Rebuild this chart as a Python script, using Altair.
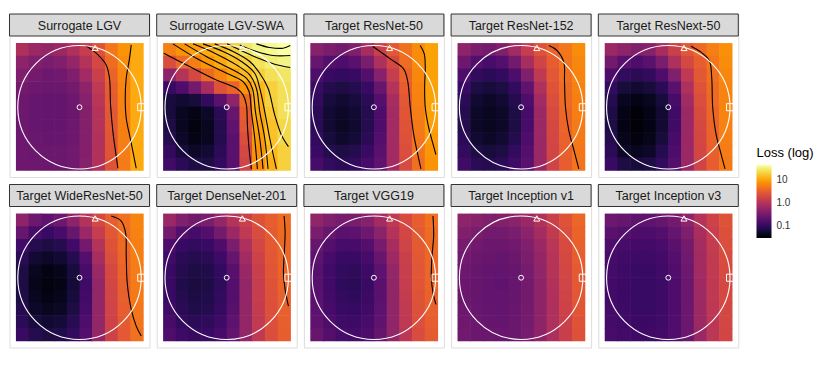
import altair as alt
import pandas as pd

# ---------------- data ----------------
panel_names = ["Surrogate LGV", "Surrogate LGV-SWA", "Target ResNet-50", "Target ResNet-152",
               "Target ResNext-50", "Target WideResNet-50", "Target DenseNet-201", "Target VGG19",
               "Target Inception v1", "Target Inception v3"]

# grid cell edges in plane coordinates (circle radius = 1)
grid_edges = [-1.03, -0.824, -0.618, -0.412, -0.206, 0.0, 0.206, 0.412, 0.618, 0.824, 1.03]

# log10(loss) per cell, rows from top to bottom
logloss_lgv = [
    [-0.05, -0.2, -0.25, -0.2, -0.05, 0.15, 0.4, 0.7, 0.9, 1.05],
    [-0.3, -0.4, -0.45, -0.4, -0.25, 0.0, 0.3, 0.62, 0.85, 1.05],
    [-0.42, -0.5, -0.55, -0.52, -0.42, -0.15, 0.2, 0.55, 0.82, 1.05],
    [-0.5, -0.55, -0.58, -0.57, -0.5, -0.3, 0.1, 0.5, 0.8, 1.05],
    [-0.55, -0.6, -0.62, -0.62, -0.55, -0.36, 0.05, 0.47, 0.78, 1.05],
    [-0.55, -0.6, -0.62, -0.62, -0.56, -0.38, 0.0, 0.45, 0.77, 1.05],
    [-0.55, -0.6, -0.62, -0.61, -0.55, -0.38, 0.0, 0.44, 0.76, 1.05],
    [-0.55, -0.58, -0.6, -0.6, -0.55, -0.38, -0.02, 0.42, 0.75, 1.05],
    [-0.55, -0.57, -0.58, -0.58, -0.53, -0.37, -0.02, 0.41, 0.74, 1.05],
    [-0.55, -0.55, -0.56, -0.56, -0.52, -0.36, -0.02, 0.4, 0.73, 1.05],
]
logloss_swa = [
    [0.75, 0.9, 0.98, 1.05, 1.15, 1.3, 1.45, 1.55, 1.6, 1.65],
    [0.35, 0.6, 0.75, 0.92, 1.05, 1.18, 1.3, 1.42, 1.5, 1.55],
    [-0.3, 0.0, 0.3, 0.6, 0.8, 1.0, 1.15, 1.3, 1.4, 1.45],
    [-0.95, -0.8, -0.5, -0.1, 0.4, 0.55, 0.9, 1.15, 1.3, 1.4],
    [-1.2, -1.25, -1.2, -1.0, -0.7, -0.3, 0.6, 1.1, 1.3, 1.4],
    [-1.2, -1.35, -1.4, -1.3, -1.05, -0.6, 0.5, 1.05, 1.25, 1.4],
    [-1.15, -1.35, -1.45, -1.35, -1.1, -0.65, 0.45, 1.0, 1.2, 1.35],
    [-1.1, -1.3, -1.4, -1.35, -1.1, -0.7, 0.35, 0.95, 1.2, 1.35],
    [-1.0, -1.2, -1.3, -1.25, -1.05, -0.7, 0.3, 0.9, 1.15, 1.3],
    [-0.9, -1.05, -1.15, -1.15, -1.0, -0.7, 0.25, 0.85, 1.1, 1.3],
]
logloss_resnet50 = [
    [-0.35, -0.45, -0.5, -0.4, -0.1, 0.2, 0.45, 0.65, 0.85, 1.0],
    [-0.6, -0.75, -0.8, -0.7, -0.45, -0.05, 0.3, 0.62, 0.85, 1.0],
    [-0.8, -0.95, -1.0, -0.95, -0.75, -0.35, 0.15, 0.55, 0.82, 1.0],
    [-0.95, -1.1, -1.15, -1.1, -0.95, -0.6, 0.0, 0.5, 0.8, 1.0],
    [-1.0, -1.2, -1.25, -1.2, -1.05, -0.75, -0.1, 0.45, 0.78, 1.0],
    [-1.05, -1.25, -1.3, -1.25, -1.1, -0.8, -0.15, 0.42, 0.75, 1.0],
    [-1.05, -1.25, -1.32, -1.27, -1.1, -0.8, -0.15, 0.4, 0.72, 0.98],
    [-1.0, -1.2, -1.28, -1.22, -1.05, -0.75, -0.15, 0.38, 0.7, 0.95],
    [-0.95, -1.1, -1.15, -1.1, -0.95, -0.7, -0.15, 0.35, 0.68, 0.92],
    [-0.85, -1.0, -1.05, -1.0, -0.85, -0.65, -0.15, 0.32, 0.65, 0.9],
]
logloss_resnet152 = [
    [-0.3, -0.45, -0.5, -0.4, -0.15, 0.15, 0.4, 0.55, 0.7, 0.85],
    [-0.55, -0.75, -0.85, -0.75, -0.5, -0.1, 0.25, 0.5, 0.68, 0.82],
    [-0.8, -1.0, -1.05, -1.0, -0.8, -0.4, 0.1, 0.45, 0.65, 0.8],
    [-0.95, -1.15, -1.2, -1.15, -1.0, -0.65, -0.05, 0.4, 0.62, 0.78],
    [-1.05, -1.25, -1.3, -1.25, -1.1, -0.8, -0.15, 0.35, 0.6, 0.76],
    [-1.1, -1.3, -1.35, -1.3, -1.15, -0.85, -0.2, 0.32, 0.58, 0.75],
    [-1.1, -1.3, -1.35, -1.3, -1.15, -0.85, -0.2, 0.3, 0.56, 0.73],
    [-1.05, -1.25, -1.3, -1.25, -1.1, -0.8, -0.2, 0.28, 0.54, 0.72],
    [-1.0, -1.15, -1.2, -1.15, -1.0, -0.75, -0.2, 0.27, 0.52, 0.7],
    [-0.9, -1.05, -1.1, -1.05, -0.9, -0.7, -0.2, 0.25, 0.5, 0.68],
]
logloss_resnext50 = [
    [-0.2, -0.3, -0.4, -0.35, -0.1, 0.2, 0.45, 0.6, 0.75, 0.88],
    [-0.5, -0.7, -0.8, -0.7, -0.45, -0.05, 0.3, 0.5, 0.7, 0.85],
    [-0.8, -1.0, -1.05, -1.0, -0.8, -0.4, 0.1, 0.45, 0.65, 0.82],
    [-1.0, -1.2, -1.25, -1.2, -1.05, -0.7, -0.05, 0.4, 0.62, 0.8],
    [-1.1, -1.35, -1.4, -1.35, -1.2, -0.85, -0.15, 0.35, 0.6, 0.8],
    [-1.15, -1.4, -1.48, -1.4, -1.25, -0.9, -0.2, 0.32, 0.58, 0.8],
    [-1.15, -1.42, -1.5, -1.42, -1.25, -0.9, -0.2, 0.3, 0.56, 0.78],
    [-1.1, -1.38, -1.45, -1.38, -1.2, -0.85, -0.2, 0.28, 0.55, 0.76],
    [-1.05, -1.3, -1.35, -1.3, -1.1, -0.8, -0.2, 0.27, 0.52, 0.74],
    [-0.95, -1.15, -1.2, -1.15, -1.0, -0.75, -0.2, 0.25, 0.5, 0.72],
]
logloss_wideresnet50 = [
    [-0.3, -0.55, -0.65, -0.55, -0.3, 0.0, 0.3, 0.5, 0.65, 0.8],
    [-0.6, -0.85, -0.95, -0.85, -0.6, -0.2, 0.15, 0.45, 0.62, 0.78],
    [-0.9, -1.1, -1.15, -1.1, -0.9, -0.5, 0.0, 0.4, 0.6, 0.76],
    [-1.05, -1.25, -1.3, -1.25, -1.1, -0.75, -0.1, 0.35, 0.58, 0.75],
    [-1.15, -1.35, -1.42, -1.38, -1.2, -0.85, -0.2, 0.3, 0.55, 0.74],
    [-1.15, -1.38, -1.45, -1.4, -1.22, -0.9, -0.25, 0.28, 0.54, 0.73],
    [-1.15, -1.35, -1.42, -1.38, -1.2, -0.88, -0.25, 0.26, 0.52, 0.72],
    [-1.1, -1.3, -1.35, -1.32, -1.15, -0.85, -0.25, 0.25, 0.5, 0.7],
    [-1.05, -1.2, -1.25, -1.22, -1.08, -0.8, -0.25, 0.23, 0.48, 0.68],
    [-0.95, -1.1, -1.15, -1.12, -1.0, -0.75, -0.25, 0.22, 0.46, 0.66],
]
logloss_densenet201 = [
    [-0.2, -0.4, -0.5, -0.45, -0.25, 0.0, 0.2, 0.38, 0.5, 0.62],
    [-0.5, -0.75, -0.85, -0.75, -0.5, -0.2, 0.1, 0.33, 0.48, 0.6],
    [-0.8, -0.95, -1.0, -0.95, -0.8, -0.45, -0.05, 0.28, 0.46, 0.58],
    [-0.9, -1.05, -1.1, -1.05, -0.92, -0.62, -0.15, 0.22, 0.44, 0.57],
    [-0.95, -1.1, -1.15, -1.12, -1.0, -0.72, -0.22, 0.18, 0.42, 0.56],
    [-0.95, -1.12, -1.18, -1.15, -1.02, -0.75, -0.25, 0.16, 0.4, 0.55],
    [-0.95, -1.1, -1.16, -1.13, -1.0, -0.75, -0.26, 0.15, 0.38, 0.53],
    [-0.9, -1.05, -1.12, -1.1, -0.98, -0.72, -0.26, 0.13, 0.37, 0.52],
    [-0.85, -1.0, -1.05, -1.02, -0.92, -0.68, -0.26, 0.12, 0.36, 0.51],
    [-0.8, -0.92, -0.98, -0.95, -0.85, -0.64, -0.25, 0.1, 0.35, 0.5],
]
logloss_vgg19 = [
    [-0.28, -0.4, -0.48, -0.45, -0.35, -0.15, 0.1, 0.32, 0.5, 0.65],
    [-0.45, -0.6, -0.7, -0.68, -0.55, -0.32, 0.0, 0.28, 0.48, 0.62],
    [-0.6, -0.75, -0.85, -0.85, -0.75, -0.48, -0.1, 0.25, 0.47, 0.6],
    [-0.68, -0.85, -0.95, -0.95, -0.85, -0.6, -0.18, 0.2, 0.45, 0.58],
    [-0.72, -0.9, -1.0, -1.02, -0.92, -0.68, -0.25, 0.17, 0.43, 0.57],
    [-0.72, -0.9, -1.02, -1.05, -0.95, -0.7, -0.28, 0.15, 0.42, 0.56],
    [-0.7, -0.88, -1.0, -1.02, -0.93, -0.7, -0.28, 0.13, 0.4, 0.54],
    [-0.68, -0.85, -0.95, -0.98, -0.9, -0.68, -0.28, 0.11, 0.38, 0.52],
    [-0.65, -0.8, -0.9, -0.92, -0.85, -0.65, -0.28, 0.09, 0.36, 0.5],
    [-0.6, -0.75, -0.85, -0.87, -0.8, -0.62, -0.28, 0.07, 0.33, 0.48],
]
logloss_inception1 = [
    [-0.3, -0.35, -0.4, -0.38, -0.32, -0.2, -0.02, 0.2, 0.4, 0.58],
    [-0.4, -0.45, -0.5, -0.5, -0.45, -0.32, -0.12, 0.12, 0.35, 0.55],
    [-0.48, -0.52, -0.57, -0.57, -0.52, -0.4, -0.2, 0.05, 0.32, 0.52],
    [-0.52, -0.57, -0.6, -0.62, -0.57, -0.45, -0.25, 0.02, 0.3, 0.5],
    [-0.55, -0.6, -0.63, -0.64, -0.6, -0.48, -0.28, 0.0, 0.28, 0.48],
    [-0.56, -0.6, -0.64, -0.65, -0.6, -0.5, -0.3, -0.02, 0.26, 0.46],
    [-0.56, -0.6, -0.63, -0.64, -0.6, -0.5, -0.3, -0.03, 0.24, 0.44],
    [-0.55, -0.59, -0.62, -0.63, -0.59, -0.5, -0.3, -0.04, 0.22, 0.42],
    [-0.54, -0.58, -0.6, -0.61, -0.58, -0.49, -0.3, -0.05, 0.2, 0.4],
    [-0.52, -0.56, -0.58, -0.59, -0.56, -0.48, -0.3, -0.06, 0.18, 0.38],
]
logloss_inception3 = [
    [-0.55, -0.6, -0.65, -0.65, -0.6, -0.5, -0.3, 0.0, 0.22, 0.4],
    [-0.7, -0.75, -0.8, -0.8, -0.75, -0.62, -0.42, -0.08, 0.17, 0.37],
    [-0.8, -0.85, -0.88, -0.88, -0.83, -0.7, -0.5, -0.12, 0.14, 0.35],
    [-0.85, -0.9, -0.92, -0.92, -0.88, -0.75, -0.53, -0.14, 0.12, 0.33],
    [-0.87, -0.92, -0.95, -0.95, -0.9, -0.78, -0.55, -0.15, 0.11, 0.32],
    [-0.88, -0.93, -0.96, -0.96, -0.92, -0.8, -0.56, -0.16, 0.1, 0.3],
    [-0.88, -0.93, -0.96, -0.96, -0.92, -0.8, -0.56, -0.17, 0.09, 0.3],
    [-0.87, -0.92, -0.95, -0.95, -0.91, -0.8, -0.57, -0.18, 0.08, 0.29],
    [-0.86, -0.9, -0.93, -0.93, -0.9, -0.79, -0.57, -0.19, 0.07, 0.28],
    [-0.84, -0.88, -0.91, -0.91, -0.88, -0.78, -0.57, -0.2, 0.06, 0.27],
]

# contour lines, (x, y) in plane coordinates
contours_lgv = [
    [(0.097, 1.0), (0.27, 0.876), (0.432, 0.686), (0.486, 0.47), (0.503, 0.038), (0.541, -0.395), (0.584, -0.719), (0.622, -0.989)],
    [(0.838, 1.01), (0.811, 0.795), (0.757, 0.47), (0.741, 0.146), (0.757, -0.178), (0.822, -0.503), (0.876, -0.773), (0.919, -0.989)],
]
contours_swa = [
    [(-1.02, 0.876), (-0.6, 0.659), (-0.168, 0.443), (0.157, 0.308), (0.265, 0.2), (0.319, 0.038), (0.335, -0.286), (0.362, -0.665), (0.4, -1.0)],
    [(-0.87, 1.027), (-0.492, 0.795), (-0.059, 0.578), (0.265, 0.416), (0.362, 0.254), (0.4, -0.07), (0.454, -0.503), (0.497, -1.0)],
    [(-0.681, 1.027), (-0.33, 0.822), (0.049, 0.632), (0.319, 0.47), (0.416, 0.308), (0.465, -0.07), (0.535, -0.503), (0.589, -1.0)],
    [(-0.546, 1.027), (-0.195, 0.876), (0.157, 0.686), (0.373, 0.524), (0.481, 0.308), (0.535, -0.07), (0.616, -0.503), (0.67, -1.0)],
    [(-0.384, 1.027), (-0.059, 0.903), (0.238, 0.741), (0.454, 0.551), (0.535, 0.308), (0.616, -0.07), (0.697, -0.503), (0.805, -1.0)],
    [(-0.195, 1.027), (0.103, 0.903), (0.373, 0.741), (0.535, 0.551), (0.67, 0.308), (0.778, -0.124), (0.886, -0.449), (1.0, -0.638)],
    [(0.005, 1.027), (0.265, 0.903), (0.535, 0.784), (0.778, 0.697), (1.03, 0.643)],
    [(0.211, 1.01), (0.481, 0.903), (0.751, 0.838), (1.03, 0.838)],
    [(0.481, 1.027), (0.697, 0.968), (0.914, 0.957), (1.03, 1.0)],
]
contours_resnet50 = [
    [(-0.016, 0.984), (0.265, 0.784), (0.481, 0.622), (0.546, 0.432), (0.589, 0.0), (0.643, -0.432), (0.697, -0.703), (0.762, -1.0)],
    [(0.751, 1.0), (0.816, 0.865), (0.832, 0.649), (0.822, 0.324), (0.832, 0.0), (0.886, -0.324), (0.957, -0.595), (1.005, -0.768)],
]
contours_resnet152 = [
    [(0.449, 1.0), (0.584, 0.919), (0.692, 0.73), (0.703, 0.432), (0.719, 0.0), (0.773, -0.378), (0.843, -0.649), (0.935, -1.0)],
]
contours_resnext50 = [
    [(0.368, 0.989), (0.53, 0.892), (0.665, 0.757), (0.703, 0.486), (0.719, 0.0), (0.773, -0.432), (0.854, -0.757), (0.919, -1.0)],
]
contours_wideresnet50 = [
    [(0.514, 1.0), (0.676, 0.919), (0.746, 0.73), (0.757, 0.351), (0.773, -0.081), (0.838, -0.514), (0.919, -0.784), (1.0, -0.946)],
]
contours_densenet201 = [
    [(0.93, 1.0), (0.946, 0.73), (0.93, 0.351), (0.919, 0.081), (0.946, -0.189), (1.0, -0.459)],
]
contours_vgg19 = [
    [(0.957, 1.0), (0.968, 0.676), (0.941, 0.351), (0.93, 0.027), (0.957, -0.243), (1.005, -0.432)],
]
contours_inception1 = []
contours_inception3 = []

# reference points on the plane
marker_names = ["centre", "model 1", "model 2"]
marker_x = [0.0, 0.254, 1.0]
marker_y = [0.0, 0.961, 0.0]

panel_grids = [logloss_lgv, logloss_swa, logloss_resnet50, logloss_resnet152, logloss_resnext50,
               logloss_wideresnet50, logloss_densenet201, logloss_vgg19, logloss_inception1, logloss_inception3]
panel_contours = [contours_lgv, contours_swa, contours_resnet50, contours_resnet152, contours_resnext50,
                  contours_wideresnet50, contours_densenet201, contours_vgg19, contours_inception1, contours_inception3]

# ---------------- layout / style ----------------
W, H = 140, 163
STRIP = 22
XDOM = [-1.134, 1.134]
YDOM = [-1.131, 1.511]
px_per_unit = W / (XDOM[1] - XDOM[0])
ring_size = (2 * px_per_unit) ** 2

xs = alt.Scale(domain=XDOM, nice=False, zero=False)
ys = alt.Scale(domain=YDOM, nice=False, zero=False)
cscale = alt.Scale(type="log", scheme="inferno", domain=[0.03, 45])

legend = alt.Legend(
    type="gradient",
    title="Loss (log)", values=[0.1, 1, 10],
    labelExpr="datum.value >= 10 ? '10' : (datum.value >= 1 ? '1.0' : '0.1')",
    orient="none", legendX=747, legendY=133, direction="vertical",
    gradientLength=73, gradientThickness=15, gradientStrokeWidth=0,
    titleFontSize=13, titleFontWeight="normal", titleColor="#000000", titleFont="Liberation Sans",
    titlePadding=5, labelFontSize=10, labelColor="#333333", labelFont="Liberation Sans", labelOffset=5,
)


def make_panel(name, grid, contours):
    cells = []
    for r, row in enumerate(grid):
        for c, v in enumerate(row):
            cells.append({"x0": grid_edges[c], "x1": grid_edges[c + 1],
                          "y0": grid_edges[9 - r], "y1": grid_edges[10 - r], "loss": 10 ** v})
    # slight overlap of neighbouring cells hides anti-aliasing seams
    heat = alt.Chart(pd.DataFrame(cells)).mark_rect(strokeWidth=0, x2Offset=0.6, y2Offset=-0.6).encode(
        x=alt.X("x0:Q", scale=xs, axis=None), x2="x1:Q",
        y=alt.Y("y0:Q", scale=ys, axis=None), y2="y1:Q",
        color=alt.Color("loss:Q", scale=cscale, legend=legend),
    )
    layers = [heat]
    if contours:
        rows = []
        for li, line in enumerate(contours):
            for pi, (x, y) in enumerate(line):
                rows.append({"line": li, "i": pi, "x": x, "y": y})
        layers.append(alt.Chart(pd.DataFrame(rows)).mark_line(
            color="black", strokeWidth=1.1, interpolate="catmull-rom").encode(
            x=alt.X("x:Q", scale=xs, axis=None), y=alt.Y("y:Q", scale=ys, axis=None),
            detail="line:N", order="i:Q"))
    ring = alt.Chart(pd.DataFrame({"x": [marker_x[0]], "y": [marker_y[0]]})).mark_point(
        shape="circle", size=ring_size, filled=False, color="white", strokeWidth=1.1, opacity=1).encode(
        x=alt.X("x:Q", scale=xs, axis=None), y=alt.Y("y:Q", scale=ys, axis=None))
    pts = alt.Chart(pd.DataFrame({"name": marker_names, "x": marker_x, "y": marker_y})).mark_point(
        filled=False, color="white", strokeWidth=1, opacity=1).encode(
        x=alt.X("x:Q", scale=xs, axis=None), y=alt.Y("y:Q", scale=ys, axis=None),
        shape=alt.Shape("name:N", scale=alt.Scale(domain=marker_names, range=["circle", "triangle-up", "square"]), legend=None),
        size=alt.Size("name:N", scale=alt.Scale(domain=marker_names, range=[24, 50, 28]), legend=None),
    )
    strip = alt.Chart(pd.DataFrame({"t": [name]})).mark_rect(
        fill="#d9d9d9", stroke="#333333", strokeWidth=1).encode(
        x=alt.value(0), x2=alt.value(W), y=alt.value(0), y2=alt.value(STRIP))
    label = alt.Chart(pd.DataFrame({"t": [name]})).mark_text(
        font="Liberation Sans", fontSize=12.5, color="#1a1a1a", baseline="middle", align="center").encode(
        text="t:N", x=alt.value(W / 2), y=alt.value(STRIP / 2 + 0.5))
    layers += [ring, pts, strip, label]
    return alt.layer(*layers).properties(width=W, height=H)


charts = [make_panel(n, g, c) for n, g, c in zip(panel_names, panel_grids, panel_contours)]
row1 = alt.hconcat(*charts[:5], spacing=5.2)
row2 = alt.hconcat(*charts[5:], spacing=5.2)
chart = alt.vconcat(row1, row2, spacing=5.5).properties(
    padding={"left": 0.5, "top": 5, "right": 5, "bottom": 5}
).configure_view(stroke="#333333", strokeWidth=1).configure(background="white")

chart.save("out.html", embed_options={"renderer": "svg", "actions": False})
